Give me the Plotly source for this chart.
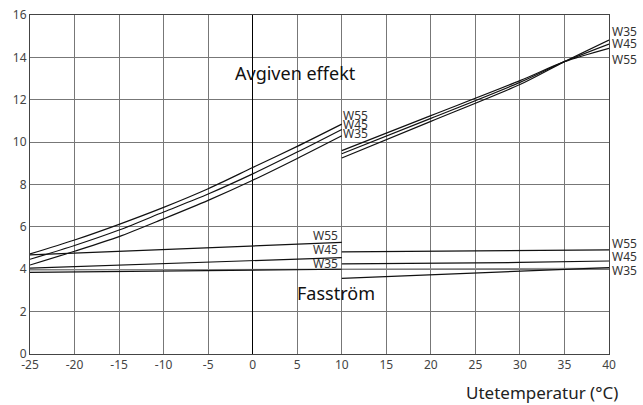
import plotly.graph_objects as go

# Avgiven effekt, left segment (-25..10)
x_av_left = [-25, -20, -15, -10, -5, 0, 5, 10]
av_w55_left = [4.72, 5.38, 6.12, 6.92, 7.80, 8.80, 9.80, 10.85]
av_w45_left = [4.47, 5.12, 5.85, 6.70, 7.55, 8.50, 9.53, 10.60]
av_w35_left = [4.20, 4.85, 5.54, 6.38, 7.25, 8.20, 9.23, 10.30]

# Avgiven effekt, right segment (10..40)
x_av_right = [10, 20, 30, 35, 40]
av_w55_right = [9.60, 11.25, 12.90, 13.80, 14.43]
av_w45_right = [9.45, 11.12, 12.82, 13.80, 14.63]
av_w35_right = [9.25, 10.98, 12.72, 13.80, 14.82]

# Fasström, left segment (-25..10)
x_fs_left = [-25, 10]
fs_w55_left = [4.68, 5.27]
fs_w45_left = [4.05, 4.55]
fs_w35_left = [3.85, 4.00]

# Fasström, right segment (10..40)
x_fs_right = [10, 20, 30, 40]
fs_w55_right = [4.82, 4.85, 4.88, 4.91]
fs_w45_right = [4.25, 4.27, 4.32, 4.39]
fs_w35_right = [3.57, 3.75, 3.92, 4.08]

# faint reference line across
x_faint = [-25, 40]
faint_vals = [3.96, 4.05]

x_ticks = list(range(-25, 41, 5))
y_ticks = list(range(0, 17, 2))

fig = go.Figure()
line_style = dict(color="#111111", width=1.2)

for xs, ys in [(x_av_left, av_w55_left), (x_av_left, av_w45_left), (x_av_left, av_w35_left)]:
    fig.add_trace(go.Scatter(x=xs, y=ys, mode="lines", line=dict(line_style, shape="spline", smoothing=0.8),
                             showlegend=False, hoverinfo="skip"))
for xs, ys in [(x_av_right, av_w55_right), (x_av_right, av_w45_right), (x_av_right, av_w35_right)]:
    fig.add_trace(go.Scatter(x=xs, y=ys, mode="lines", line=dict(line_style, shape="spline", smoothing=0.8),
                             showlegend=False, hoverinfo="skip"))
fig.add_trace(go.Scatter(x=x_faint, y=faint_vals, mode="lines", line=dict(color="#888888", width=1),
                         showlegend=False, hoverinfo="skip"))
for xs, ys in [(x_fs_left, fs_w55_left), (x_fs_left, fs_w45_left), (x_fs_left, fs_w35_left),
               (x_fs_right, fs_w55_right), (x_fs_right, fs_w45_right), (x_fs_right, fs_w35_right)]:
    fig.add_trace(go.Scatter(x=xs, y=ys, mode="lines", line=line_style,
                             showlegend=False, hoverinfo="skip"))

lab_font = dict(family="Noto Sans", size=12, color="#333333")
big_font = dict(family="Noto Sans", size=18, color="#111111")

def lab(x, y, t, anchor="left", font=lab_font, xref="x"):
    fig.add_annotation(x=x, y=y, text=t, showarrow=False, xanchor=anchor, yanchor="middle",
                       font=font, xref=xref, yref="y", borderpad=0)

# labels at end of left avgiven segment
lab(10.0, 11.28, "W55")
lab(10.0, 10.84, "W45")
lab(10.0, 10.42, "W35")
# fasström left labels
lab(9.7, 5.58, "W55", "right")
lab(9.7, 4.94, "W45", "right")
lab(9.7, 4.28, "W35", "right")
# right side labels (outside plot area -> paper x)
rx = 1.004
lab(rx, 15.24, "W35", xref="paper")
lab(rx, 14.66, "W45", xref="paper")
lab(rx, 13.92, "W55", xref="paper")
lab(rx, 5.22, "W55", xref="paper")
lab(rx, 4.59, "W45", xref="paper")
lab(rx, 3.93, "W35", xref="paper")

lab(4.85, 13.26, "Avgiven effekt", "center", big_font)
lab(9.3, 2.86, "Fasström", "center", big_font)

fig.add_annotation(x=1.019, y=-0.115, xref="paper", yref="paper", text="Utetemperatur (°C)",
                   showarrow=False, xanchor="right", yanchor="middle",
                   font=dict(family="Noto Sans", size=17, color="#222222"))

fig.update_xaxes(range=[-25, 40], tickvals=x_ticks, ticktext=[str(v) for v in x_ticks],
                 showgrid=True, gridcolor="#777777", gridwidth=1,
                 zeroline=True, zerolinecolor="#000000", zerolinewidth=1.2,
                 showline=True, linecolor="#444444", linewidth=1, mirror=True,
                 ticks="", automargin=False,
                 tickfont=dict(family="Noto Sans", size=12, color="#444444"))
fig.update_yaxes(range=[0, 16], tickvals=y_ticks, ticktext=[str(v) for v in y_ticks],
                 showgrid=True, gridcolor="#777777", gridwidth=1, zeroline=False,
                 showline=True, linecolor="#444444", linewidth=1, mirror=True,
                 ticks="", automargin=False,
                 tickfont=dict(family="Noto Sans", size=12, color="#444444"))

fig.update_layout(width=643, height=405, margin=dict(l=30, r=34, t=15, b=51, autoexpand=False),
                  plot_bgcolor="white", paper_bgcolor="white",
                  font=dict(family="Noto Sans"))

fig.write_html("out.html", config={"displayModeBar": False},
               post_script="document.body.style.margin='0';document.body.style.overflow='hidden';")
